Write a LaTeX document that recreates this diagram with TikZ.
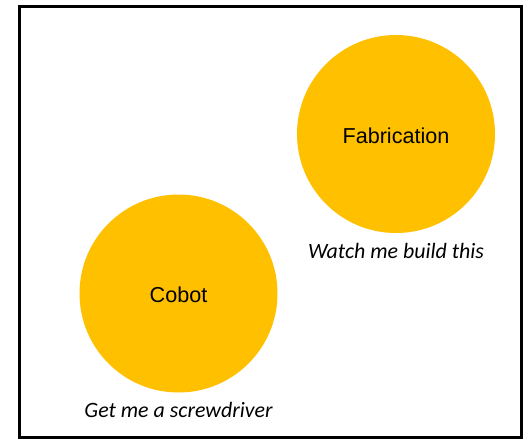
\documentclass[tikz,border=0pt]{standalone}
\usepackage{fontspec}
\setmainfont{Liberation Sans}
\newfontfamily\calib{Carlito}
\definecolor{gold}{HTML}{FFC000}
\begin{document}
\begin{tikzpicture}[x=1pt,y=-1pt,
  blob/.style={circle,fill=gold,draw=none,minimum size=198pt,inner sep=0pt},
  label/.style={inner sep=0pt,font=\fontsize{21.6}{26}\selectfont},
  caption/.style={anchor=base,inner sep=0pt,font=\calib\itshape\fontsize{21.9}{26}\selectfont}]
\useasboundingbox (0,0) rectangle (525,439);
\draw[line width=3pt] (19.5,6) rectangle (521,437.5);
\node[blob] (fab) at (396,134) {};
\node[label] at ([yshift=-2pt]fab.center) {Fabrication};
\node[blob] (cobot) at (178.5,293.5) {};
\node[label] at ([yshift=-1.5pt]cobot.center) {Cobot};
\node[caption] (fabcap) at (396,258) {Watch me build this};
\node[caption] (cobcap) at (178.5,417.5) {Get me a screwdriver};
\end{tikzpicture}
\end{document}
